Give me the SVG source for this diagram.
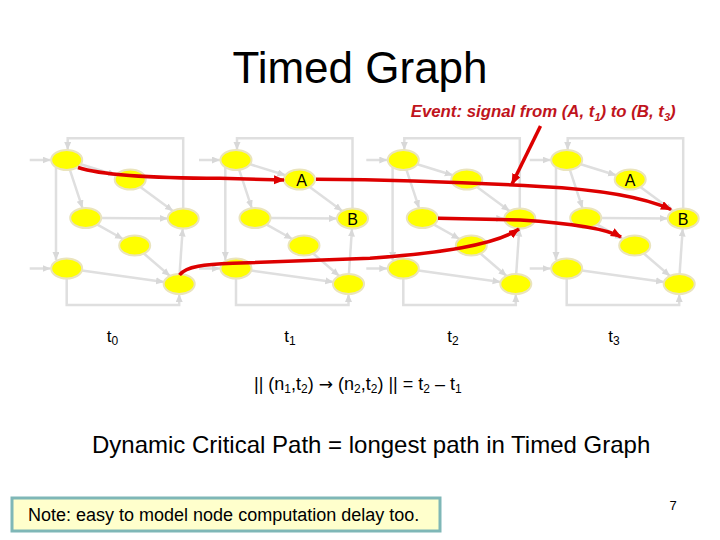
<svg xmlns="http://www.w3.org/2000/svg" xmlns:xlink="http://www.w3.org/1999/xlink" width="720" height="540" viewBox="0 0 720 540">
<defs>
<style>
.e{fill:none;stroke:#DFDFDF;stroke-width:2.5;marker-end:url(#ga)}
.nd{fill:#FFFF00;stroke:#EAE4BC;stroke-width:2}
.r{fill:none;stroke:#DD0000;stroke-width:3.5;marker-end:url(#ra)}
.t{font-family:"Liberation Sans",Arial,sans-serif;fill:#000}
.lbl{font-family:"Liberation Sans",Arial,sans-serif;font-size:16px;text-anchor:middle;fill:#000}
</style>
<marker id="ga" markerUnits="userSpaceOnUse" markerWidth="9" markerHeight="8" refX="8" refY="3.5" orient="auto"><path d="M0,0 L8,3.5 L0,7 z" fill="#D8D8D8"/></marker>
<marker id="ra" markerUnits="userSpaceOnUse" markerWidth="12" markerHeight="10" refX="10" refY="4.5" orient="auto"><path d="M0,0 L11,4.5 L0,9 z" fill="#DD0000"/></marker>
</defs>
<rect width="720" height="540" fill="#fff"/>

<text class="t" x="360" y="83" font-size="44" text-anchor="middle">Timed Graph</text>

<g id="connectors">
<g transform="translate(66.7,160)">
<path class="e" d="M14,4.3 L49.5,15.2"/><path class="e" d="M3.2,9.8 L15.8,48.2"/><path class="e" d="M73.7,27 L106.3,51"/><path class="e" d="M34.5,58 L101,58.5"/><path class="e" d="M30.7,64.6 L56.3,79"/><path class="e" d="M77.2,93.5 L103.3,116"/><path class="e" d="M15.2,110.6 L97.3,121.9"/><path class="e" d="M112.9,114 L116,68.5"/><path class="e" d="M-10.7,7.2 L-10.7,100"/><path class="e" d="M116.5,48.5 L116.5,-21.7 L1,-21.7 L1,-10"/><path class="e" d="M0,118.5 L0,145 L112.5,145 L112.5,134"/><path class="e" d="M-37,0 L-16,0"/><path class="e" d="M-37,108.5 L-16,108.5"/>
</g>
<g transform="translate(236,160)">
<path class="e" d="M14,4.3 L49.5,15.2"/><path class="e" d="M3.2,9.8 L15.8,48.2"/><path class="e" d="M73.7,27 L106.3,51"/><path class="e" d="M34.5,58 L101,58.5"/><path class="e" d="M30.7,64.6 L56.3,79"/><path class="e" d="M77.2,93.5 L103.3,116"/><path class="e" d="M15.2,110.6 L97.3,121.9"/><path class="e" d="M112.9,114 L116,68.5"/><path class="e" d="M-10.7,7.2 L-10.7,100"/><path class="e" d="M116.5,48.5 L116.5,-21.7 L1,-21.7 L1,-10"/><path class="e" d="M0,118.5 L0,145 L112.5,145 L112.5,134"/><path class="e" d="M-37,0 L-16,0"/><path class="e" d="M-37,108.5 L-16,108.5"/>
</g>
<g transform="translate(403.3,160)">
<path class="e" d="M14,4.3 L49.5,15.2"/><path class="e" d="M3.2,9.8 L15.8,48.2"/><path class="e" d="M73.7,27 L106.3,51"/><path class="e" d="M34.5,58 L101,58.5"/><path class="e" d="M30.7,64.6 L56.3,79"/><path class="e" d="M77.2,93.5 L103.3,116"/><path class="e" d="M15.2,110.6 L97.3,121.9"/><path class="e" d="M112.9,114 L116,68.5"/><path class="e" d="M-10.7,7.2 L-10.7,100"/><path class="e" d="M116.5,48.5 L116.5,-21.7 L1,-21.7 L1,-10"/><path class="e" d="M0,118.5 L0,145 L112.5,145 L112.5,134"/><path class="e" d="M-37,0 L-16,0"/><path class="e" d="M-37,108.5 L-16,108.5"/>
</g>
<g transform="translate(566.7,160)">
<path class="e" d="M14,4.3 L49.5,15.2"/><path class="e" d="M3.2,9.8 L15.8,48.2"/><path class="e" d="M73.7,27 L106.3,51"/><path class="e" d="M34.5,58 L101,58.5"/><path class="e" d="M30.7,64.6 L56.3,79"/><path class="e" d="M77.2,93.5 L103.3,116"/><path class="e" d="M15.2,110.6 L97.3,121.9"/><path class="e" d="M112.9,114 L116,68.5"/><path class="e" d="M-10.7,7.2 L-10.7,100"/><path class="e" d="M116.5,48.5 L116.5,-21.7 L1,-21.7 L1,-10"/><path class="e" d="M0,118.5 L0,145 L112.5,145 L112.5,134"/><path class="e" d="M-37,0 L-16,0"/><path class="e" d="M-37,108.5 L-16,108.5"/>
</g>
</g>

<g id="copy1" transform="translate(66.7,160)">
<g id="c1n1"><ellipse class="nd" cx="0" cy="0" rx="15.5" ry="10"/></g>
<g id="c1n2"><ellipse class="nd" cx="63.5" cy="19.5" rx="15.5" ry="10"/></g>
<g id="c1n3"><ellipse class="nd" cx="19" cy="58" rx="15.5" ry="10"/></g>
<g id="c1n4"><ellipse class="nd" cx="116.5" cy="58.5" rx="15.5" ry="10"/></g>
<g id="c1n5"><ellipse class="nd" cx="68" cy="85.5" rx="15.5" ry="10"/></g>
<g id="c1n6"><ellipse class="nd" cx="0" cy="108.5" rx="15.5" ry="10"/></g>
<g id="c1n7"><ellipse class="nd" cx="112.5" cy="124" rx="15.5" ry="10"/></g>
</g>
<g id="copy2" transform="translate(236,160)">
<g id="c2n1"><ellipse class="nd" cx="0" cy="0" rx="15.5" ry="10"/></g>
<g id="c2n2"><ellipse class="nd" cx="63.5" cy="19.5" rx="15.5" ry="10"/></g>
<g id="c2n3"><ellipse class="nd" cx="19" cy="58" rx="15.5" ry="10"/></g>
<g id="c2n4"><ellipse class="nd" cx="116.5" cy="58.5" rx="15.5" ry="10"/></g>
<g id="c2n5"><ellipse class="nd" cx="68" cy="85.5" rx="15.5" ry="10"/></g>
<g id="c2n6"><ellipse class="nd" cx="0" cy="108.5" rx="15.5" ry="10"/></g>
<g id="c2n7"><ellipse class="nd" cx="112.5" cy="124" rx="15.5" ry="10"/></g>
</g>
<g id="copy3" transform="translate(403.3,160)">
<g id="c3n1"><ellipse class="nd" cx="0" cy="0" rx="15.5" ry="10"/></g>
<g id="c3n2"><ellipse class="nd" cx="63.5" cy="19.5" rx="15.5" ry="10"/></g>
<g id="c3n3"><ellipse class="nd" cx="19" cy="58" rx="15.5" ry="10"/></g>
<g id="c3n4"><ellipse class="nd" cx="116.5" cy="58.5" rx="15.5" ry="10"/></g>
<g id="c3n5"><ellipse class="nd" cx="68" cy="85.5" rx="15.5" ry="10"/></g>
<g id="c3n6"><ellipse class="nd" cx="0" cy="108.5" rx="15.5" ry="10"/></g>
<g id="c3n7"><ellipse class="nd" cx="112.5" cy="124" rx="15.5" ry="10"/></g>
</g>
<g id="copy4" transform="translate(566.7,160)">
<g id="c4n1"><ellipse class="nd" cx="0" cy="0" rx="15.5" ry="10"/></g>
<g id="c4n2"><ellipse class="nd" cx="63.5" cy="19.5" rx="15.5" ry="10"/></g>
<g id="c4n3"><ellipse class="nd" cx="19" cy="58" rx="15.5" ry="10"/></g>
<g id="c4n4"><ellipse class="nd" cx="116.5" cy="58.5" rx="15.5" ry="10"/></g>
<g id="c4n5"><ellipse class="nd" cx="68" cy="85.5" rx="15.5" ry="10"/></g>
<g id="c4n6"><ellipse class="nd" cx="0" cy="108.5" rx="15.5" ry="10"/></g>
<g id="c4n7"><ellipse class="nd" cx="112.5" cy="124" rx="15.5" ry="10"/></g>
</g>

<g id="signal-connectors">
<path class="r" d="M78,167.5 Q110,178 220,178.3 L284,180"/>
<path class="r" d="M316,179.3 C420,180 480,183 540,186.5 Q630,191 671,209.5"/>
<path class="r" d="M438,218.3 L520,220 Q600,225 621,237"/>
<path class="r" d="M179.5,275 C186,266 205,264.5 233,263.3 L370,258.3 C440,253 495,245 519,229"/>
<path class="r" stroke-width="2.5" d="M540.5,126 L512,184"/>
</g>

<g id="node-labels">
<text class="lbl" x="301.5" y="186">A</text>
<text class="lbl" x="352.5" y="224.5">B</text>
<text class="lbl" x="630" y="186">A</text>
<text class="lbl" x="683" y="224.5">B</text>
</g>

<text x="410.7" y="117" font-family="Liberation Sans,Arial,sans-serif" font-size="16.8" font-style="italic" font-weight="bold" fill="#C0141C">Event: signal from (A, t<tspan font-size="11" dy="4">1</tspan><tspan dy="-4">) to (B, t</tspan><tspan font-size="11" dy="4">3</tspan><tspan dy="-4">)</tspan></text>

<g class="t" font-size="17">
<text x="106.7" y="342">t<tspan font-size="12" dy="3">0</tspan></text>
<text x="284.3" y="342">t<tspan font-size="12" dy="3">1</tspan></text>
<text x="447.3" y="342">t<tspan font-size="12" dy="3">2</tspan></text>
<text x="608.3" y="342">t<tspan font-size="12" dy="3">3</tspan></text>
</g>

<text class="t" x="254" y="390" font-size="18">|| (n<tspan font-size="12" dy="3">1</tspan><tspan dy="-3">,t</tspan><tspan font-size="12" dy="3">2</tspan><tspan dy="-3">) </tspan><tspan font-family="DejaVu Sans,sans-serif" font-size="17">→</tspan><tspan> (n</tspan><tspan font-size="12" dy="3">2</tspan><tspan dy="-3">,t</tspan><tspan font-size="12" dy="3">2</tspan><tspan dy="-3">) || = t</tspan><tspan font-size="12" dy="3">2</tspan><tspan dy="-3"> – t</tspan><tspan font-size="12" dy="3">1</tspan></text>

<text class="t" x="92" y="453" font-size="24">Dynamic Critical Path = longest path in Timed Graph</text>

<g id="note">
<rect x="12" y="498" width="428" height="33" fill="#FFFFCC" stroke="#7FB7B7" stroke-width="3"/>
<text class="t" x="28" y="521" font-size="18">Note: easy to model node computation delay too.</text>
</g>

<text class="t" x="673" y="510" font-size="13" text-anchor="middle">7</text>
</svg>
